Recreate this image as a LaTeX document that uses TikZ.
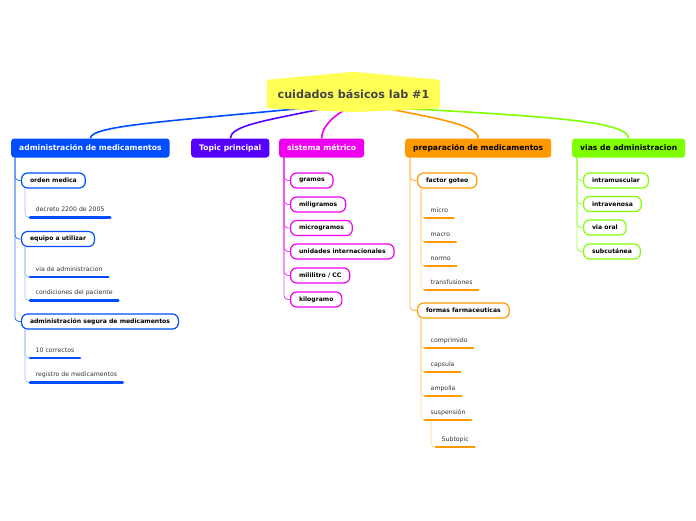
\documentclass[tikz,border=0pt]{standalone}
\usepackage{fontspec}
\setmainfont{DejaVu Sans}
\usetikzlibrary{backgrounds}
\definecolor{rootyellow}{HTML}{FFFF55}
\definecolor{admblue}{HTML}{004CFF}
\definecolor{topicpurple}{HTML}{5500FF}
\definecolor{sismagenta}{HTML}{EE00EE}
\definecolor{preporange}{HTML}{FF9900}
\definecolor{viasgreen}{HTML}{80FF00}
\begin{document}
\begin{tikzpicture}[x=1pt,y=-1pt,
  roottext/.style={font=\fontsize{11.2}{13}\selectfont\bfseries, text=black!73,
                   minimum width=173pt, minimum height=28pt, inner sep=0pt},
  branch/.style={fill=#1, rounded corners=3pt, anchor=west, minimum height=19pt,
                 inner xsep=8pt, inner ysep=0pt, text=white,
                 font=\fontsize{7.6}{9}\selectfont\bfseries},
  subbox/.style={draw=#1, line width=1.2pt, fill=white, rounded corners=6pt,
                 anchor=west, minimum height=15pt, inner xsep=8.4pt, inner ysep=0pt,
                 font=\fontsize{6.1}{7}\selectfont\bfseries},
  leaf/.style={anchor=south west, inner xsep=5.5pt, inner ysep=4.5pt,
               text height=4.6pt, text depth=1.3pt, text=black!80,
               font=\fontsize{6.2}{7}\selectfont,
               append after command={(\tikzlastnode.south west)
                 edge[draw=#1, line width=2.6pt, line cap=round] (\tikzlastnode.south east)}},
  mainline/.style={draw=#1, line width=1.6pt},
  trunk/.style={draw=#1!75, line width=0.9pt, rounded corners=4pt},
  twig/.style={draw=#1!40, line width=0.6pt, rounded corners=4pt}
]
\def\ts{5pt} %shift of a trunk from the left of its branch
\useasboundingbox (0,0) rectangle (696,520);

% central topic
\node[roottext] (root) at (353.5,94) {cuidados básicos lab \#1};

% main branches
\node[branch=admblue] (adm) at (11,148) {administración de medicamentos};
\node[branch=topicpurple] (topic) at (191,148) {Topic principal};
\node[branch=sismagenta] (sis) at (279,148) {sistema métrico};
\node[branch=preporange, text=black] (prep) at (405,148) {preparación de medicamentos};
\node[branch=viasgreen, text=black] (vias) at (572,148) {vias de administracion};

% administración de medicamentos
\node[subbox=admblue] (orden) at (21,180.5) {orden medica};
\node[leaf=admblue] (decreto) at (30,217.5) {decreto 2200 de 2005};
\node[subbox=admblue] (equipo) at (21,239) {equipo a utilizar};
\node[leaf=admblue] (viaadm) at (30,277) {via de administracion};
\node[leaf=admblue] (condic) at (30,300.5) {condiciones del paciente};
\node[subbox=admblue] (segura) at (21,321.5) {administración segura de medicamentos};
\node[leaf=admblue] (correctos) at (30,358) {10 correctos};
\node[leaf=admblue] (registro) at (30,382.5) {registro de medicamentos};

% sistema métrico
\node[subbox=sismagenta] (gramos) at (290,180.5) {gramos};
\node[subbox=sismagenta] (miligr) at (290,204.5) {miligramos};
\node[subbox=sismagenta] (microgr) at (290,228) {microgramos};
\node[subbox=sismagenta] (unidades) at (290,251.5) {unidades internacionales};
\node[subbox=sismagenta] (mililitro) at (290,275.5) {mililitro / CC};
\node[subbox=sismagenta] (kilogr) at (290,299.5) {kilogramo};

% preparación de medicamentos
\node[subbox=preporange] (factor) at (417,180.5) {factor goteo};
\node[leaf=preporange] (micro) at (425,218) {micro};
\node[leaf=preporange] (macro) at (425,242) {macro};
\node[leaf=preporange] (normo) at (425,266) {normo};
\node[leaf=preporange] (transf) at (425,290) {transfusiones};
\node[subbox=preporange] (formas) at (417,310.5) {formas farmaceuticas};
\node[leaf=preporange] (comprim) at (425,348) {comprimido};
\node[leaf=preporange] (capsula) at (425,372) {capsula};
\node[leaf=preporange] (ampolla) at (425,396) {ampolla};
\node[leaf=preporange] (suspen) at (425,420) {suspensión};
\node[leaf=preporange] (subtopic) at (436,447) {Subtopic};

% vias de administracion
\node[subbox=viasgreen] (intramusc) at (583,180.5) {intramuscular};
\node[subbox=viasgreen] (intraven) at (583,204) {intravenosa};
\node[subbox=viasgreen] (viaoral) at (583,227.5) {via oral};
\node[subbox=viasgreen] (subcut) at (583,251.5) {subcutánea};

\begin{scope}[on background layer]
% from the central topic to the branches
\draw[mainline=admblue] ([xshift=-50pt]root.south) .. controls (160,122) and (91,126) .. (adm.north);
\draw[mainline=topicpurple] ([xshift=-28pt]root.south) .. controls (262,121) and (231,126) .. (topic.north);
\draw[mainline=sismagenta] ([xshift=-6pt]root.south) .. controls (330,118) and (322,128) .. (sis.north);
\draw[mainline=preporange] ([xshift=32pt]root.south) .. controls (440,119) and (477,125) .. (prep.north);
\draw[mainline=viasgreen] ([xshift=47pt]root.south) .. controls (560,117) and (627,122) .. (vias.north);

% trunks
\foreach \n in {orden,equipo,segura}
  \draw[trunk=admblue] ([xshift=4pt]adm.south west) |- (\n.west);
\foreach \n in {gramos,miligr,microgr,unidades,mililitro,kilogr}
  \draw[trunk=sismagenta] ([xshift=\ts]sis.south west) |- (\n.west);
\foreach \n in {factor,formas}
  \draw[trunk=preporange] ([xshift=\ts]prep.south west) |- (\n.west);
\foreach \n in {intramusc,intraven,viaoral,subcut}
  \draw[trunk=viasgreen] ([xshift=\ts]vias.south west) |- (\n.west);

% twigs to the leaves
\draw[twig=admblue] ([xshift=4pt]orden.south west) |- (decreto.south west);
\foreach \n in {viaadm,condic}
  \draw[twig=admblue] ([xshift=4pt]equipo.south west) |- (\n.south west);
\foreach \n in {correctos,registro}
  \draw[twig=admblue] ([xshift=4pt]segura.south west) |- (\n.south west);
\foreach \n in {micro,macro,normo,transf}
  \draw[twig=preporange] ([xshift=4pt]factor.south west) |- (\n.south west);
\foreach \n in {comprim,capsula,ampolla,suspen}
  \draw[twig=preporange] ([xshift=4pt]formas.south west) |- (\n.south west);
\draw[twig=preporange] ([xshift=6pt]suspen.south west) |- (subtopic.south west);

% shape of the central topic
\fill[rootyellow, rounded corners=2pt] (root.north west) -- ([yshift=8pt]root.north)
  -- (root.north east) -- (root.south east) -- ([yshift=-4pt]root.south)
  -- (root.south west) -- cycle;
\end{scope}
\end{tikzpicture}
\end{document}
